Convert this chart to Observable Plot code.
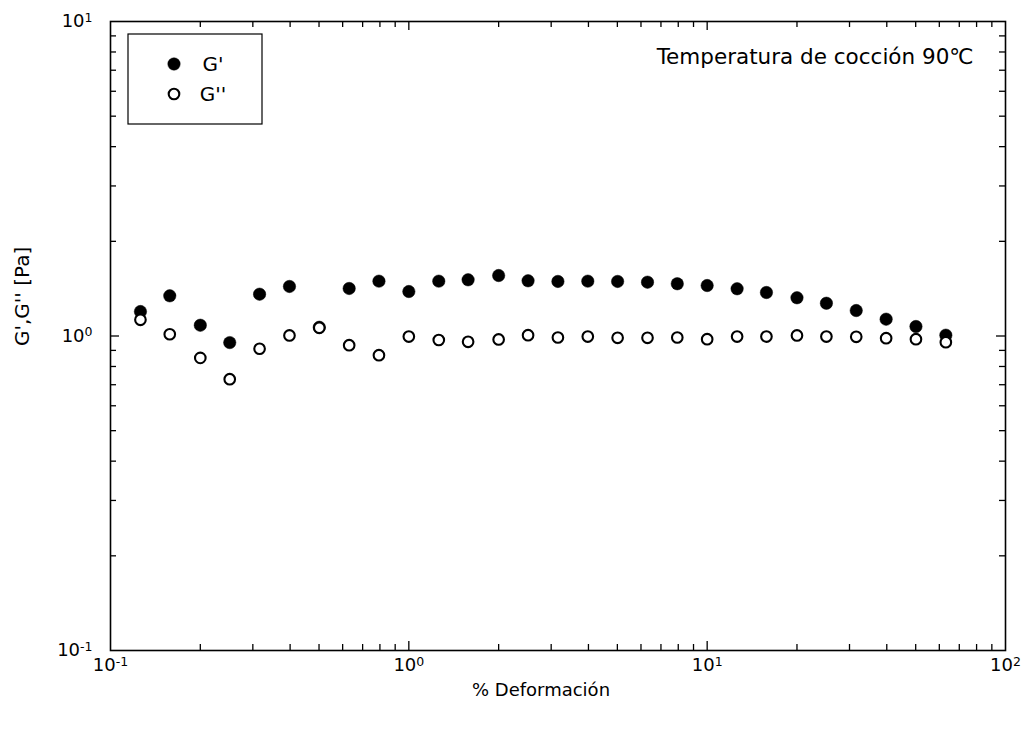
<!DOCTYPE html>
<html><head><meta charset="utf-8">
<script src="https://cdn.jsdelivr.net/npm/d3@7"></script>
<script src="https://cdn.jsdelivr.net/npm/@observablehq/plot@0.6"></script>
<style>
body{margin:0;background:#fff}
#chart svg{font-family:"DejaVu Sans",sans-serif;background:#fff}
</style>
</head><body><div id="chart"></div>
<script>
// ---- data ----
const strain = [0.126,0.158,0.2,0.251,0.316,0.398,0.501,0.631,0.794,1,1.26,1.58,2,2.51,3.16,3.98,5.01,6.31,7.94,10,12.6,15.8,20,25.1,31.6,39.8,50.1,63.1];
const gPrime = [1.196,1.342,1.082,0.953,1.358,1.437,1.066,1.416,1.494,1.385,1.494,1.509,1.557,1.498,1.491,1.494,1.491,1.483,1.466,1.447,1.413,1.375,1.323,1.271,1.205,1.131,1.072,1.006];
const gDouble = [1.126,1.013,0.852,0.729,0.911,1.004,1.062,0.935,0.869,0.996,0.971,0.958,0.975,1.006,0.989,0.996,0.987,0.987,0.989,0.977,0.996,0.996,1.004,0.996,0.994,0.984,0.977,0.956];
const seriesNames = ["G'", "G''"];
const xTicks = [0.1, 1, 10, 100];
const yTicks = [0.1, 1, 10];
const xLabel = "% Deformación";
const yLabel = "G',G'' [Pa]";
const note = "Temperatura de cocción 90\u2103";

// ---- layout ----
const W = 1025, H = 735;
const mTop = 21, mRight = 20, mBottom = 85, mLeft = 110;
const innerW = W - mLeft - mRight, innerH = H - mTop - mBottom;
const minorLen = 6, majorLen = 9;

const minorOf = (decs) => decs.slice(0, -1).flatMap(d => [2,3,4,5,6,7,8,9].map(k => +(k * d).toPrecision(3)));
const xMinor = minorOf(xTicks), yMinor = minorOf(yTicks);
const xMajorIn = xTicks.slice(1, -1), yMajorIn = yTicks.slice(1, -1);

const pts = strain.map((s, i) => ({s, gp: gPrime[i], gpp: gDouble[i]}));
const fmt = d => "10^" + Math.round(Math.log10(d));

const svg = Plot.plot({
  width: W, height: H,
  marginTop: mTop, marginRight: mRight, marginBottom: mBottom, marginLeft: mLeft,
  x: {type: "log", domain: [0.1, 100]},
  y: {type: "log", domain: [0.1, 10]},
  style: {fontFamily: "DejaVu Sans", color: "black", background: "white"},
  marks: [
    // inward ticks on all four sides
    Plot.ruleX(xMinor, {x: d => d, insetTop: innerH - minorLen, stroke: "black", strokeWidth: 1.3}),
    Plot.ruleX(xMinor, {x: d => d, insetBottom: innerH - minorLen, stroke: "black", strokeWidth: 1.3}),
    Plot.ruleX(xMajorIn, {x: d => d, insetTop: innerH - majorLen, stroke: "black", strokeWidth: 1.3}),
    Plot.ruleX(xMajorIn, {x: d => d, insetBottom: innerH - majorLen, stroke: "black", strokeWidth: 1.3}),
    Plot.ruleY(yMinor, {y: d => d, insetRight: innerW - minorLen, stroke: "black", strokeWidth: 1.3}),
    Plot.ruleY(yMinor, {y: d => d, insetLeft: innerW - minorLen, stroke: "black", strokeWidth: 1.3}),
    Plot.ruleY(yMajorIn, {y: d => d, insetRight: innerW - majorLen, stroke: "black", strokeWidth: 1.3}),
    Plot.ruleY(yMajorIn, {y: d => d, insetLeft: innerW - majorLen, stroke: "black", strokeWidth: 1.3}),
    Plot.frame({stroke: "black", strokeWidth: 1.6}),
    Plot.axisX(xTicks, {tickSize: 0, tickPadding: 8, tickFormat: fmt, fontSize: 18, label: null}),
    Plot.axisY(yTicks, {tickSize: 0, tickPadding: 18, tickFormat: fmt, fontSize: 18, label: null}),
    Plot.text([xLabel], {text: d => d, frameAnchor: "bottom", dx: -17, dy: 40, lineAnchor: "middle", fontSize: 18, fill: "black"}),
    Plot.text([yLabel], {text: d => d, frameAnchor: "left", rotate: -90, dx: -88, dy: 10, lineAnchor: "middle", fontSize: 20, fill: "black"}),
    Plot.text([note], {text: d => d, frameAnchor: "top-right", textAnchor: "end", dx: -32, dy: 27, lineAnchor: "top", fontSize: 21.5, fill: "black"}),
    // data
    Plot.dot(pts, {x: "s", y: "gp", r: 6.2, fill: "black", stroke: "black", strokeWidth: 0.5}),
    Plot.dot(pts, {x: "s", y: "gpp", r: 5.3, fill: "white", stroke: "black", strokeWidth: 2.1})
  ]
});

// superscript exponents in tick labels
const NS = "http://www.w3.org/2000/svg";
svg.querySelectorAll("text").forEach(t => {
  const parts = t.textContent.split("^");
  if (parts.length < 2) return;
  t.setAttribute("font-size", 18);
  t.textContent = parts[0];
  const ts = document.createElementNS(NS, "tspan");
  ts.setAttribute("dy", "-0.45em");
  ts.setAttribute("font-size", 12.5);
  ts.textContent = parts[1];
  t.appendChild(ts);
});

// legend box
const lg = d3.select(svg).append("g").attr("font-family", "DejaVu Sans").attr("font-size", 20);
const bx = mLeft + 18, by = mTop + 13;
lg.append("rect").attr("x", bx).attr("y", by).attr("width", 134).attr("height", 90)
  .attr("fill", "white").attr("stroke", "black").attr("stroke-width", 1.2);
seriesNames.forEach((name, i) => {
  const cy = by + 30 + i * 30;
  lg.append("circle").attr("cx", bx + 46).attr("cy", cy).attr("r", i === 0 ? 6.2 : 5.3)
    .attr("fill", i === 0 ? "black" : "white").attr("stroke", "black").attr("stroke-width", i === 0 ? 0.5 : 2.1);
  lg.append("text").attr("x", bx + 85).attr("y", cy).attr("dy", "0.36em").attr("fill", "black").text(name);
});

document.getElementById("chart").appendChild(svg);
</script>
</body></html>
